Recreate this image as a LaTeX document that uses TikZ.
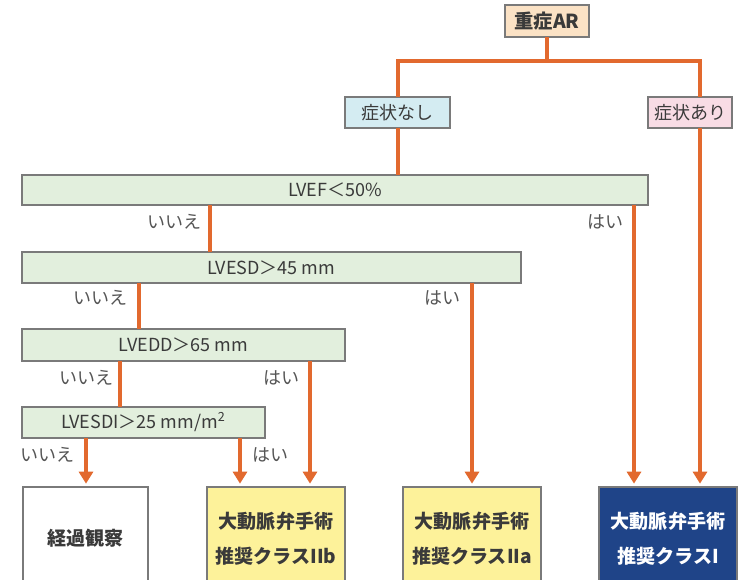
\documentclass[tikz,border=0pt]{standalone}
\usepackage{fontspec}
\setmainfont{Noto Sans CJK JP}
\usetikzlibrary{arrows.meta}
\definecolor{lineor}{HTML}{E2692E}
\definecolor{greenfill}{HTML}{E2EFDD}
\definecolor{boxline}{HTML}{7A7A7A}
\definecolor{arfill}{HTML}{FBE2C5}
\definecolor{bluefill}{HTML}{D4ECF2}
\definecolor{pinkfill}{HTML}{F8DCE5}
\definecolor{yellowfill}{HTML}{FDF29A}
\definecolor{navy}{HTML}{1F4488}
\definecolor{txt}{HTML}{3A3A3A}
\definecolor{lbl}{HTML}{555555}
\newcommand{\bx}[7]{\node[#6, minimum width={(#4-#2)*0.75pt}, minimum height={(#5-#3)*0.75pt}] (#1) at ({(#2+#4)/2},{(#3+#5)/2}) {#7};}
\tikzset{
  basebox/.style={draw=boxline, line width=0.8pt, inner sep=0pt, outer sep=0pt, text=txt},
  greenbox/.style={basebox, fill=greenfill, font=\fontsize{13.5}{15}\selectfont},
  smallbox/.style={basebox, font=\fontsize{13.5}{15}\selectfont},
  resbox/.style={basebox, align=center, font=\fontsize{14.3}{26}\selectfont\bfseries},
  conn/.style={draw=lineor, line width=2.8pt},
  arr/.style={conn, -{Triangle[length=9pt,width=10.5pt]}},
  lab/.style={text=lbl, font=\fontsize{13.5}{15}\selectfont, inner sep=0pt}
}
\begin{document}
\begin{tikzpicture}[x=0.75pt,y=-0.75pt]
\clip (0,0) rectangle (745,580);
\fill[white] (0,0) rectangle (745,580);
% boxes
\bx{ar}{505}{5}{589}{37}{smallbox, fill=arfill, font=\fontsize{14.5}{16}\selectfont\bfseries}{重症AR}
\bx{nashi}{345}{97}{450}{128}{smallbox, fill=bluefill}{症状なし}
\bx{ari}{648}{97}{732}{128}{smallbox, fill=pinkfill}{症状あり}
\bx{lvef}{22}{175}{648}{205}{greenbox}{LVEF＜50\%}
\bx{lvesd}{22}{252}{521}{283}{greenbox}{LVESD＞45 mm}
\bx{lvedd}{22}{329}{345}{361}{greenbox}{LVEDD＞65 mm}
\bx{lvesdi}{22}{407}{265}{438}{greenbox}{LVESDI＞25 mm/m\textsuperscript{2}}
\bx{obs}{23}{487}{148}{590}{resbox, fill=white}{経過観察}
\bx{iib}{207}{487}{345}{590}{resbox, fill=yellowfill}{大動脈弁手術\\推奨クラスIIb}
\bx{iia}{403}{487}{541}{590}{resbox, fill=yellowfill}{大動脈弁手術\\推奨クラスIIa}
\bx{ci}{599}{487}{737}{590}{resbox, fill=navy, text=white}{大動脈弁手術\\推奨クラスI}
% x positions
\coordinate (h) at (0,61);
\coordinate (xa) at (398,0);
\coordinate (xb) at (700,0);
\coordinate (x1) at (210,0);
\coordinate (x2) at (634,0);
\coordinate (x3) at (139,0);
\coordinate (x4) at (472,0);
\coordinate (x5) at (120,0);
\coordinate (x6) at (310,0);
\coordinate (x7) at (86,0);
\coordinate (x8) at (240,0);
% connectors
\draw[conn] (ar.south) -- (ar.south |- h);
\draw[conn] (nashi.north -| xa) -- (h -| xa) -- (h -| xb) -- (ari.north -| xb);
\draw[conn] (nashi.south -| xa) -- (lvef.north -| xa);
\draw[arr] (ari.south -| xb) -- ([yshift=2.5pt]ci.north -| xb);
\draw[conn] (lvef.south -| x1) -- (lvesd.north -| x1);
\draw[arr] (lvef.south -| x2) -- ([yshift=2.5pt]ci.north -| x2);
\draw[conn] (lvesd.south -| x3) -- (lvedd.north -| x3);
\draw[arr] (lvesd.south -| x4) -- ([yshift=2.5pt]iia.north -| x4);
\draw[conn] (lvedd.south -| x5) -- (lvesdi.north -| x5);
\draw[arr] (lvedd.south -| x6) -- ([yshift=2.5pt]iib.north -| x6);
\draw[arr] (lvesdi.south -| x7) -- ([yshift=2.5pt]obs.north -| x7);
\draw[arr] (lvesdi.south -| x8) -- ([yshift=2.5pt]iib.north -| x8);
% labels
\node[lab] (l1) at (174,222) {いいえ};
\node[lab] (l2) at (605,222) {はい};
\node[lab] (l3) at (100,298) {いいえ};
\node[lab] (l4) at (442,298) {はい};
\node[lab] (l5) at (86,378) {いいえ};
\node[lab] (l6) at (281,378) {はい};
\node[lab] (l7) at (47,455) {いいえ};
\node[lab] (l8) at (270,455) {はい};
\end{tikzpicture}
\end{document}
